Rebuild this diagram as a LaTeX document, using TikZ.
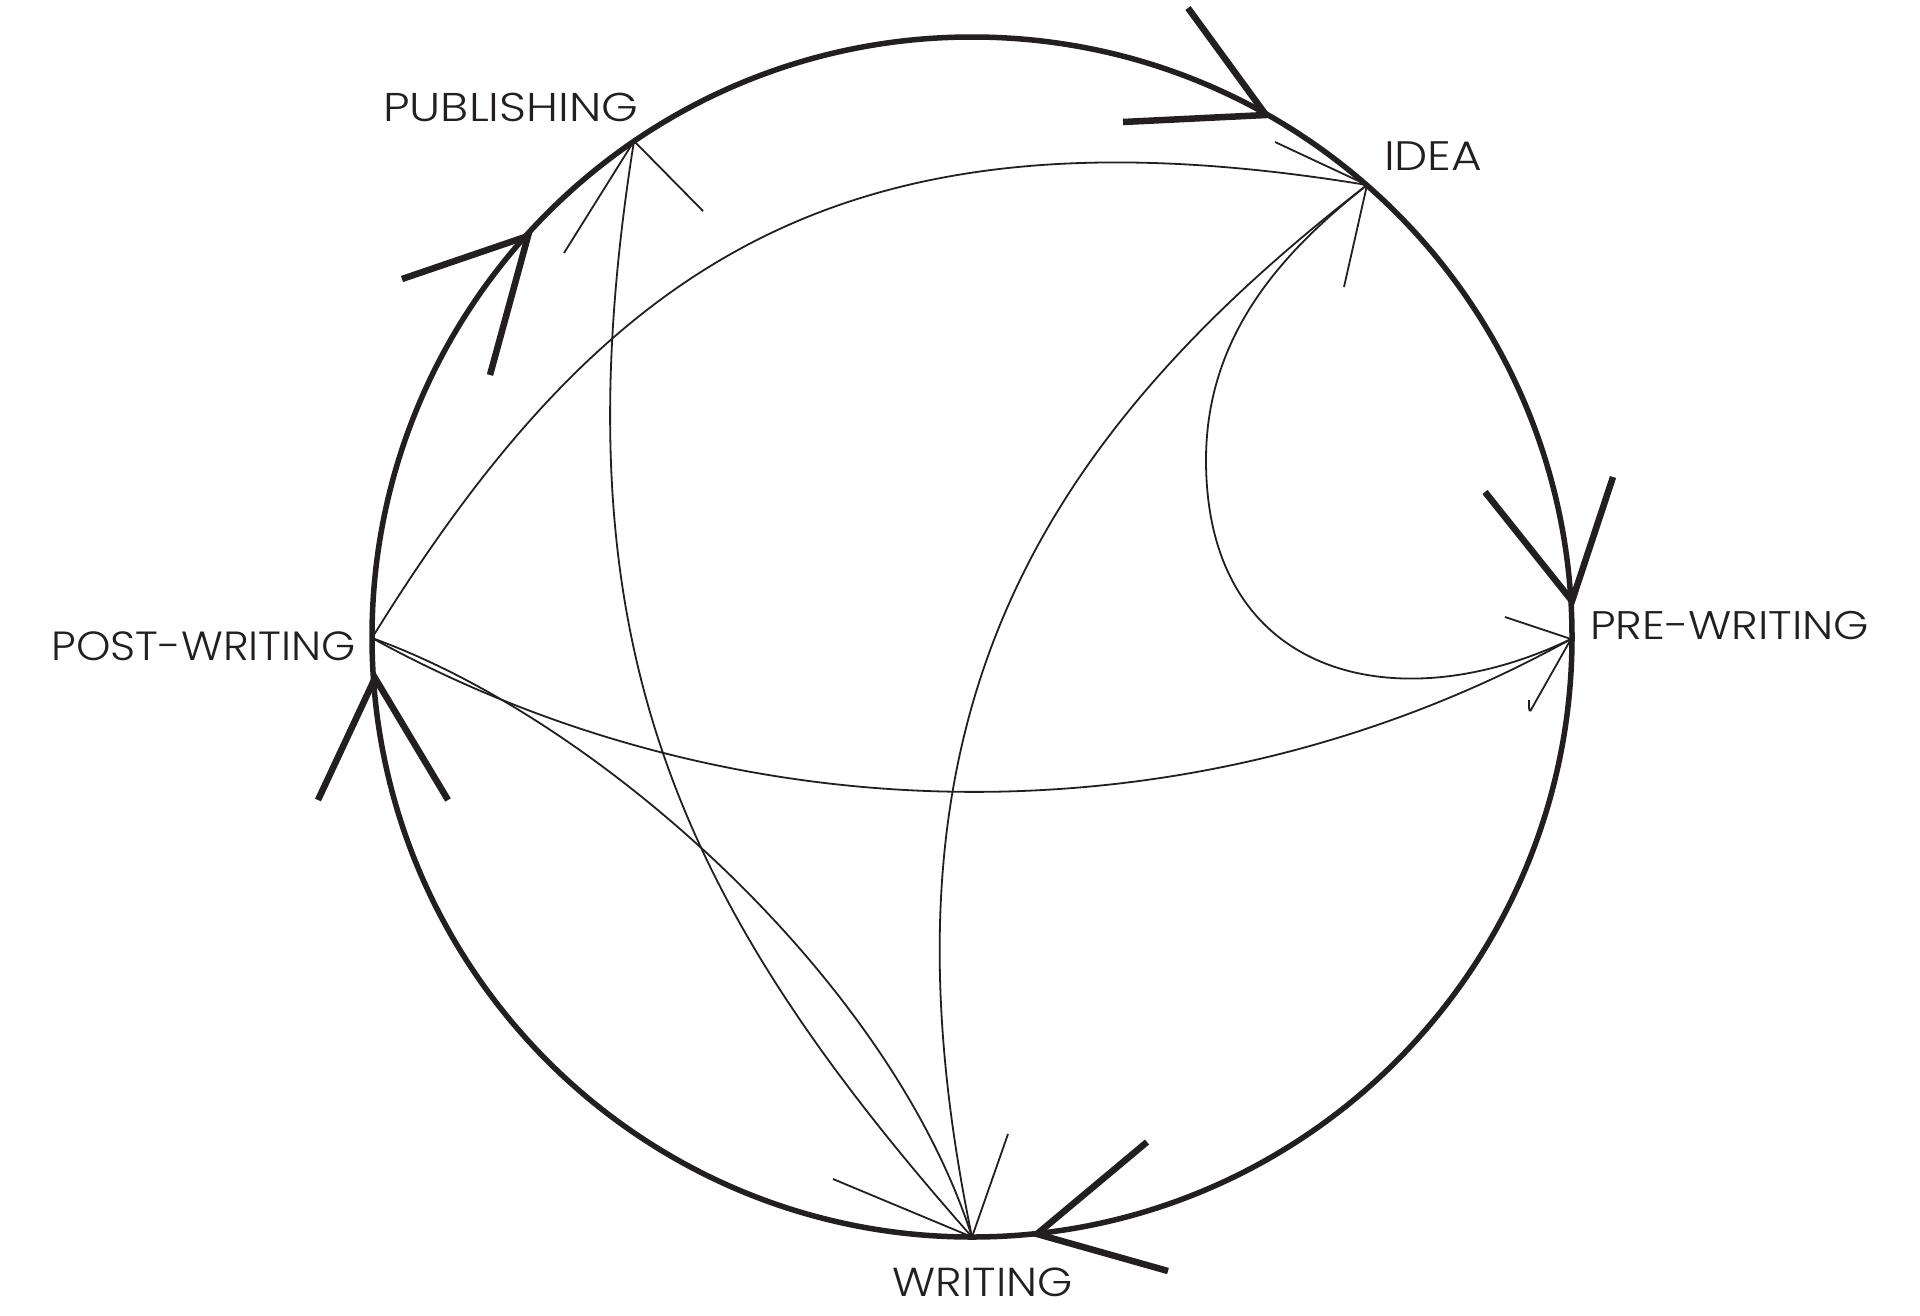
\documentclass[tikz,border=0pt]{standalone}
\usepackage{fontspec}
\usepackage{graphicx}
\newfontfamily\labfont{Poppins Light}
\usetikzlibrary{calc}
\definecolor{ink}{RGB}{35,31,32}
\begin{document}
\begin{tikzpicture}[x=1pt,y=-1pt,
  ring/.style={draw=ink,line width=5.5pt},
  bigtip/.style={draw=ink,line width=6.5pt,line join=miter,line cap=butt},
  link/.style={draw=ink,line width=1.8pt},
  tipline/.style={draw=ink,line width=1.8pt,line cap=butt},
  lbl/.style={inner sep=0pt,outer sep=0pt,anchor=south west,text=ink}]

\useasboundingbox (0,0) rectangle (1920,1315);
\fill[white] (0,0) rectangle (1920,1315);

% circle
\coordinate (ctr) at (972,637);
\draw[ring] (ctr) circle[radius=600];

% stage points
\coordinate (idea) at (1367,185);
\coordinate (pre) at (1571,639);
\coordinate (writing) at (972,1237);
\coordinate (post) at (372,638);
\coordinate (pub) at (634,141);

% labels
\node[lbl] (ideaL) at (1384,170) {\resizebox{98.3pt}{28.8pt}{\labfont IDEA}};
\node[lbl] (preL) at (1590,639.3) {\resizebox{279.3pt}{28.2pt}{\labfont PRE-WRITING}};
\node[lbl] (writingL) at (892.7,1296.7) {\resizebox{180pt}{28.6pt}{\labfont WRITING}};
\node[lbl] (postL) at (51.7,660.7) {\resizebox{304.3pt}{28.8pt}{\labfont POST-WRITING}};
\node[lbl] (pubL) at (383.3,121.7) {\resizebox{255pt}{28.4pt}{\labfont PUBLISHING}};

% thin connectors
\draw[link] (post) .. controls (608,256) and (850,100) .. (idea);
\draw[link] (pub) .. controls (555,637) and (673,898.5) .. (writing);
\draw[link] (post) .. controls (600,720) and (890,980) .. (writing);
\draw[link] (post) .. controls (743,842) and (1201,844) .. (pre);
\draw[link] (idea) .. controls (1011.5,459.5) and (870,746) .. (writing);
\coordinate (loopL) at (1206,460);
\draw[link] (idea) .. controls (1289,247) and (1206,330) .. (loopL)
  .. controls (1206,680) and (1400,722) .. (pre);

% thin arrow heads
\draw[tipline] ($(idea)+(-92,-43)$) -- (idea) -- ($(idea)+(-23,102)$);
\draw[tipline] ($(pre)+(-66,-22)$) -- (pre) -- ($(pre)+(-39,69)$)
  .. controls ($(pre)+(-41,74)$) and ($(pre)+(-42.5,73)$) .. ($(pre)+(-42,61)$);
\draw[tipline] ($(writing)+(-139,-58)$) -- (writing) -- ($(writing)+(36,-103)$);
\draw[tipline] ($(pub)+(-70,112)$) -- (pub) -- ($(pub)+(69,70)$);

% thick arrow heads on the circle
\coordinate (t1) at (1266,115);
\coordinate (t2) at (1572,601);
\coordinate (t3) at (1037,1234);
\coordinate (t4) at (375,678);
\coordinate (t5) at (528,236);
\draw[bigtip] ($(t1)+(-78,-107)$) -- (t1) -- ($(t1)+(-143,7)$);
\draw[bigtip] ($(t2)+(-87,-109)$) -- (t2) -- ($(t2)+(41,-124)$);
\draw[bigtip] ($(t3)+(110,-92)$) -- (t3) -- ($(t3)+(131,37)$);
\draw[bigtip] ($(t4)+(-57,122)$) -- (t4) -- ($(t4)+(73,122)$);
\draw[bigtip] ($(t5)+(-126,43)$) -- (t5) -- ($(t5)+(-38,139)$);
\end{tikzpicture}
\end{document}
